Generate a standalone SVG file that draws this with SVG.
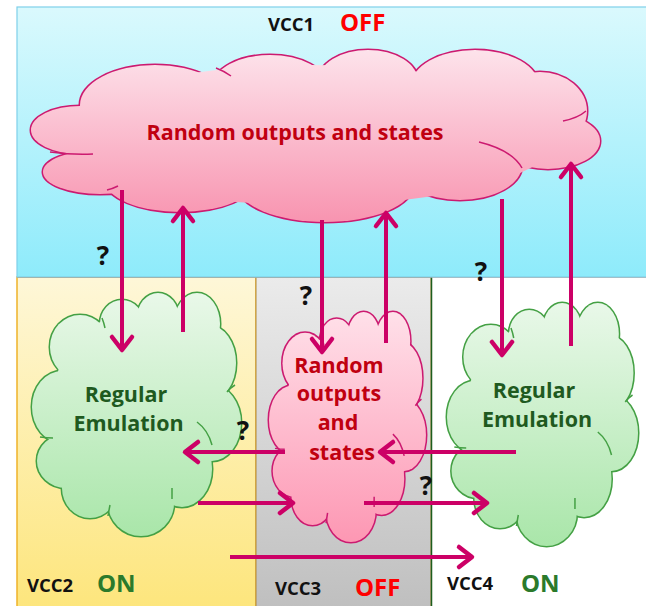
<svg xmlns="http://www.w3.org/2000/svg" xmlns:xlink="http://www.w3.org/1999/xlink" width="646" height="606" viewBox="0 0 646 606">
  <style>
    .lbl { font-family: "Open Sans", "Noto Sans", "Liberation Sans", sans-serif; font-weight: bold; }
    .vcc { font-size: 18.5px; fill: #111111; }
    .off { font-size: 24px; fill: #ff0000; }
    .on { font-size: 24px; fill: #2b7a2b; }
    .q { font-size: 26px; fill: #111111; text-anchor: middle; }
    .ctxt { font-size: 21.5px; text-anchor: middle; }
    .red { fill: #c00010; }
    .grn { fill: #1f5a1f; }
    .conn { stroke: #cc0066; stroke-width: 4; fill: none; marker-end: url(#ah); }
    .crease { fill: none; stroke-width: 1.5; vector-effect: non-scaling-stroke; }
    .cshape ellipse { vector-effect: non-scaling-stroke; }
  </style>
  <defs>
    <linearGradient id="gTop" x1="0" y1="0" x2="0" y2="1">
      <stop offset="0" stop-color="#daf9fd"/>
      <stop offset="1" stop-color="#8eebfb"/>
    </linearGradient>
    <linearGradient id="gYel" x1="0" y1="0" x2="0" y2="1">
      <stop offset="0" stop-color="#fef7d8"/>
      <stop offset="1" stop-color="#fde57a"/>
    </linearGradient>
    <linearGradient id="gGry" x1="0" y1="0" x2="0" y2="1">
      <stop offset="0" stop-color="#ebebeb"/>
      <stop offset="1" stop-color="#bebebe"/>
    </linearGradient>
    <linearGradient id="gBigPink" gradientUnits="userSpaceOnUse" x1="0" y1="50" x2="0" y2="222">
      <stop offset="0" stop-color="#fde3eb"/>
      <stop offset="1" stop-color="#f894b0"/>
    </linearGradient>
    <!-- gradients in the local frame of the small cloud (0..209 x 0..244) -->
    <linearGradient id="gGreen" gradientUnits="userSpaceOnUse" x1="0" y1="0" x2="0" y2="244">
      <stop offset="0" stop-color="#e9f8e9"/>
      <stop offset="1" stop-color="#a9e6a9"/>
    </linearGradient>
    <linearGradient id="gPink" gradientUnits="userSpaceOnUse" x1="0" y1="0" x2="0" y2="244">
      <stop offset="0" stop-color="#ffe0e9"/>
      <stop offset="1" stop-color="#fd97b3"/>
    </linearGradient>
    <marker id="ah" markerUnits="userSpaceOnUse" viewBox="-16 -13 20 26" markerWidth="20" markerHeight="26" refX="0" refY="0" orient="auto" overflow="visible">
      <path d="M-13,-10 L0,0 L-13,10" fill="none" stroke="#cc0066" stroke-width="4.5" stroke-linecap="round" stroke-linejoin="round"/>
    </marker>
    <!-- small cloud outline built from overlapping lobes -->
    <g id="cloudLobes" class="cshape">
      <ellipse cx="48" cy="54" rx="30" ry="32"/>
      <ellipse cx="90" cy="31" rx="22" ry="24"/>
      <ellipse cx="126" cy="25" rx="21" ry="25"/>
      <ellipse cx="165" cy="31" rx="23" ry="31"/>
      <ellipse cx="177" cy="70" rx="27" ry="38"/>
      <ellipse cx="180" cy="130" rx="29" ry="38"/>
      <ellipse cx="150" cy="176" rx="30" ry="38"/>
      <ellipse cx="109" cy="210" rx="33" ry="33"/>
      <ellipse cx="58" cy="195" rx="28" ry="30"/>
      <ellipse cx="34" cy="168" rx="29" ry="27"/>
      <ellipse cx="30" cy="114" rx="30" ry="36"/>
      <ellipse cx="104" cy="120" rx="86" ry="100"/>
    </g>
    <g id="cloudCreases">
      <path class="crease" d="M165,129 Q176,137 180,152"/>
      <path class="crease" d="M195,99 Q198,95 203,92"/>
      <path class="crease" d="M73,35 Q72,30 70,25"/>
      <path class="crease" d="M140,195 Q140,200 140,206"/>
      <path class="crease" d="M78,212 Q77,217 76,223"/>
      <path class="crease" d="M21,145 Q15,145 8,144"/>
    </g>
  </defs>

  <!-- supply domains -->
  <g id="domain-vcc2">
    <rect x="17" y="277" width="239" height="340" fill="url(#gYel)" stroke="#eeb22a" stroke-width="1.5"/>
  </g>
  <g id="domain-vcc3">
    <rect x="256" y="277" width="175" height="340" fill="url(#gGry)" stroke="#b08a3a" stroke-width="1"/>
  </g>
  <g id="domain-vcc4">
    <rect x="431" y="277" width="230" height="340" fill="#ffffff"/>
    <line x1="431.5" y1="277" x2="431.5" y2="606" stroke="#1e5e1e" stroke-width="1.5"/>
  </g>
  <g id="domain-vcc1">
    <rect x="17" y="7" width="640" height="270" fill="url(#gTop)" stroke="#7fd0ea" stroke-width="1.2"/>
    <line x1="17" y1="277.5" x2="646" y2="277.5" stroke="#9aa8ad" stroke-width="1" opacity="0.6"/>
  </g>

  <!-- large cloud in the VCC1 domain -->
  <g id="cloud-vcc1">
    <g stroke="#cc1a70" stroke-width="3" fill="url(#gBigPink)">
      <ellipse cx="80" cy="130" rx="49" ry="24"/>
      <ellipse cx="100" cy="172" rx="57" ry="22"/>
      <ellipse cx="155" cy="105" rx="75" ry="40"/>
      <ellipse cx="270" cy="86" rx="57" ry="31"/>
      <ellipse cx="368" cy="81" rx="50" ry="31"/>
      <ellipse cx="475" cy="86" rx="64" ry="36"/>
      <ellipse cx="540" cy="111" rx="47" ry="39"/>
      <ellipse cx="548" cy="141" rx="52" ry="28"/>
      <ellipse cx="460" cy="165" rx="62" ry="35"/>
      <ellipse cx="325" cy="185" rx="88" ry="37"/>
      <ellipse cx="180" cy="180" rx="75" ry="32"/>
    </g>
    <g fill="url(#gBigPink)">
      <ellipse cx="80" cy="130" rx="49" ry="24"/>
      <ellipse cx="100" cy="172" rx="57" ry="22"/>
      <ellipse cx="155" cy="105" rx="75" ry="40"/>
      <ellipse cx="270" cy="86" rx="57" ry="31"/>
      <ellipse cx="368" cy="81" rx="50" ry="31"/>
      <ellipse cx="475" cy="86" rx="64" ry="36"/>
      <ellipse cx="540" cy="111" rx="47" ry="39"/>
      <ellipse cx="548" cy="141" rx="52" ry="28"/>
      <ellipse cx="460" cy="165" rx="62" ry="35"/>
      <ellipse cx="325" cy="185" rx="88" ry="37"/>
      <ellipse cx="180" cy="180" rx="75" ry="32"/>
      <ellipse cx="310" cy="135" rx="250" ry="70"/>
    </g>
    <g stroke="#cc1a70" fill="none" stroke-width="1.5">
      <path d="M50,152 Q72,155 93,154"/>
      <path d="M216,68 Q224,71 231,76"/>
      <path d="M586,111 Q578,118 563,121"/>
      <path d="M479,142 Q512,150 522,168"/>
      <path d="M107,190 Q112,189 118,186"/>
    </g>
    <text class="lbl ctxt red" x="295" y="140">Random outputs and states</text>
  </g>

  <!-- regular emulation cloud, VCC2 -->
  <g id="cloud-vcc2" transform="translate(32,293)">
    <use xlink:href="#cloudLobes" fill="url(#gGreen)" stroke="#44a044" stroke-width="3"/>
    <use xlink:href="#cloudLobes" fill="url(#gGreen)" stroke="none"/>
    <use xlink:href="#cloudCreases" stroke="#44a044"/>
  </g>
  <g id="cloud-vcc2-label">
    <text class="lbl ctxt grn" x="126" y="402">Regular</text>
    <text class="lbl ctxt grn" x="128.5" y="431">Emulation</text>
  </g>

  <!-- random cloud, VCC3 -->
  <g id="cloud-vcc3" transform="translate(269,312) scale(0.751,0.947)">
    <use xlink:href="#cloudLobes" fill="url(#gPink)" stroke="#cc1a70" stroke-width="3"/>
    <use xlink:href="#cloudLobes" fill="url(#gPink)" stroke="none"/>
    <use xlink:href="#cloudCreases" stroke="#cc1a70"/>
  </g>
  <g id="cloud-vcc3-label">
    <text class="lbl ctxt red" x="339" y="373">Random</text>
    <text class="lbl ctxt red" x="339" y="401">outputs</text>
    <text class="lbl ctxt red" x="338" y="430">and</text>
    <text class="lbl ctxt red" x="342" y="460">states</text>
  </g>

  <!-- regular emulation cloud, VCC4 -->
  <g id="cloud-vcc4" transform="translate(447,303) scale(0.914,1)">
    <use xlink:href="#cloudLobes" fill="url(#gGreen)" stroke="#44a044" stroke-width="3"/>
    <use xlink:href="#cloudLobes" fill="url(#gGreen)" stroke="none"/>
    <use xlink:href="#cloudCreases" stroke="#44a044"/>
  </g>
  <g id="cloud-vcc4-label">
    <text class="lbl ctxt grn" x="534" y="398">Regular</text>
    <text class="lbl ctxt grn" x="537" y="427">Emulation</text>
  </g>

  <!-- connectors -->
  <g id="connectors">
    <line class="conn" x1="122" y1="190" x2="122" y2="350"/>
    <line class="conn" x1="183" y1="332" x2="183" y2="208"/>
    <line class="conn" x1="322" y1="220" x2="322" y2="352"/>
    <line class="conn" x1="386" y1="343" x2="386" y2="213"/>
    <line class="conn" x1="502" y1="199" x2="502" y2="355"/>
    <line class="conn" x1="571" y1="346" x2="571" y2="164"/>
    <line class="conn" x1="285" y1="452" x2="185" y2="452"/>
    <line class="conn" x1="198" y1="503" x2="293" y2="503"/>
    <line class="conn" x1="230" y1="557" x2="472" y2="557"/>
    <line class="conn" x1="516" y1="452" x2="380" y2="452"/>
    <line class="conn" x1="364" y1="503" x2="487" y2="503"/>
  </g>

  <!-- unknown-state marks -->
  <g id="marks">
    <text class="lbl q" x="103" y="265">?</text>
    <text class="lbl q" x="306" y="305">?</text>
    <text class="lbl q" x="481" y="281">?</text>
    <text class="lbl q" x="243" y="440">?</text>
    <text class="lbl q" x="426" y="495">?</text>
  </g>

  <!-- supply labels -->
  <g id="labels">
    <text class="lbl vcc" x="268" y="31">VCC1</text>
    <text class="lbl off" x="340" y="31">OFF</text>
    <text class="lbl vcc" x="27" y="592">VCC2</text>
    <text class="lbl on" x="97" y="592">ON</text>
    <text class="lbl vcc" x="275" y="595">VCC3</text>
    <text class="lbl off" x="355" y="596">OFF</text>
    <text class="lbl vcc" x="447" y="590">VCC4</text>
    <text class="lbl on" x="521" y="592">ON</text>
  </g>
</svg>
